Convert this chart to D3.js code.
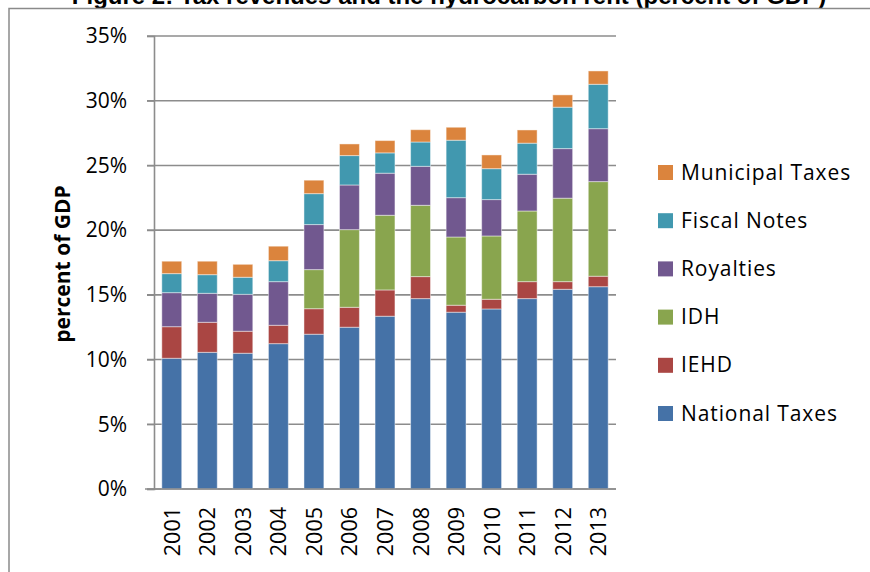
<!DOCTYPE html>
<html>
<head>
<meta charset="utf-8">
<script src="https://cdn.jsdelivr.net/npm/d3@7"></script>
<style>
  body { margin: 0; background: #fff; }
  svg { display: block; font-family: "Open Sans", sans-serif; }
</style>
</head>
<body>
<svg id="chart" width="870" height="572"></svg>
<script>
// values (percent of GDP)
const years = ["2001", "2002", "2003", "2004", "2005", "2006", "2007", "2008", "2009", "2010", "2011", "2012", "2013"];
const nationalTaxes = [10.1, 10.56, 10.49, 11.23, 11.96, 12.5, 13.35, 14.71, 13.66, 13.91, 14.71, 15.43, 15.63];
const iehd = [2.44, 2.32, 1.70, 1.42, 1.97, 1.54, 2.03, 1.70, 0.54, 0.75, 1.31, 0.59, 0.81];
const idh = [0, 0, 0, 0, 3.02, 6.0, 5.77, 5.51, 5.27, 4.89, 5.46, 6.45, 7.31];
const royalties = [2.63, 2.24, 2.85, 3.37, 3.48, 3.45, 3.25, 3.01, 3.04, 2.81, 2.84, 3.83, 4.09];
const fiscalNotes = [1.47, 1.44, 1.32, 1.62, 2.39, 2.27, 1.57, 1.88, 4.44, 2.39, 2.40, 3.20, 3.43];
const municipalTaxes = [0.96, 1.04, 1.0, 1.12, 1.04, 0.9, 0.95, 0.95, 1.0, 1.06, 1.02, 0.95, 1.03];
const seriesNames = ["National Taxes", "IEHD", "IDH", "Royalties", "Fiscal Notes", "Municipal Taxes"];
const seriesColors = ["#4572A7", "#AA4643", "#89A54E", "#71588F", "#4198AF", "#DB843D"];
const yTicks = [0, 5, 10, 15, 20, 25, 30, 35];
const title = "Figure 2: Tax revenues and the hydrocarbon rent (percent of GDP)";

const seriesValues = [nationalTaxes, iehd, idh, royalties, fiscalNotes, municipalTaxes];
const rows = years.map(function(y, i) {
  let r = { year: y };
  seriesNames.forEach(function(n, k) { r[n] = seriesValues[k][i]; });
  return r;
});

const svg = d3.select("#chart");
const plot = { left: 154, right: 616, top: 36, bottom: 489 };

const x = d3.scaleBand()
  .domain(years)
  .range([plot.left, plot.right])
  .paddingInner(0.44)
  .paddingOuter(0.22);
const y = d3.scaleLinear().domain([0, 35]).range([plot.bottom, plot.top]);
const color = d3.scaleOrdinal().domain(seriesNames).range(seriesColors);

// title, cut by the top edge like in the original picture
svg.append("text")
  .attr("x", 449)
  .attr("y", 4)
  .attr("text-anchor", "middle")
  .attr("font-weight", "bold")
  .attr("font-size", 24)
  .attr("font-family", "'Liberation Sans', Arial, sans-serif")
  .text(title);

// chart frame
svg.append("path")
  .attr("d", "M9,580V8.5H880")
  .attr("fill", "none")
  .attr("stroke", "#8a8a8a")
  .attr("stroke-width", 1.5);

// gridlines
svg.append("g")
  .selectAll("line")
  .data(yTicks)
  .join("line")
  .attr("x1", plot.left - 7)
  .attr("x2", plot.right)
  .attr("y1", d => y(d))
  .attr("y2", d => y(d))
  .attr("stroke", "#8c8c8c")
  .attr("stroke-width", 1.6);

// y axis
const yAxis = svg.append("g")
  .attr("transform", `translate(${plot.left},0)`)
  .call(d3.axisLeft(y).tickValues(yTicks).tickFormat(d => d + "%").tickSize(7).tickPadding(20));
yAxis.select(".domain").attr("stroke", "#8c8c8c").attr("stroke-width", 1.6);
yAxis.selectAll(".tick line").attr("stroke", "#8c8c8c").attr("stroke-width", 1.2);
yAxis.selectAll(".tick text")
  .attr("font-size", 21)
  .attr("font-family", "'Open Sans', sans-serif")
  .attr("fill", "#000");

// bars
const stacked = d3.stack().keys(seriesNames)(rows);
svg.append("g")
  .selectAll("g")
  .data(stacked)
  .join("g")
  .attr("fill", d => color(d.key))
  .selectAll("rect")
  .data(d => d)
  .join("rect")
  .attr("x", d => x(d.data.year))
  .attr("width", x.bandwidth())
  .attr("y", d => y(d[1]))
  .attr("height", d => Math.max(0, y(d[0]) - y(d[1])))
  .attr("stroke", "#fff")
  .attr("stroke-opacity", 0.45)
  .attr("stroke-width", 1);

// x axis line
svg.append("line")
  .attr("x1", plot.left - 9)
  .attr("x2", plot.right)
  .attr("y1", plot.bottom)
  .attr("y2", plot.bottom)
  .attr("stroke", "#8c8c8c")
  .attr("stroke-width", 1.6);

// year labels, rotated
svg.append("g")
  .selectAll("text")
  .data(years)
  .join("text")
  .attr("transform", d => `translate(${x(d) + x.bandwidth() / 2 + 8},507) rotate(-90)`)
  .attr("text-anchor", "end")
  .attr("font-size", 21.5)
  .text(d => d);

// y axis title
svg.append("text")
  .attr("transform", "translate(70,264) rotate(-90)")
  .attr("text-anchor", "middle")
  .attr("font-weight", "bold")
  .attr("font-size", 21)
  .text("percent of GDP");

// legend, top entry is the top of the stack
const legendItems = seriesNames.slice().reverse();
const legend = svg.append("g")
  .selectAll("g")
  .data(legendItems)
  .join("g")
  .attr("transform", (d, i) => `translate(658,${172 + i * 48.2})`);
legend.append("rect")
  .attr("x", 0)
  .attr("y", -7)
  .attr("width", 15)
  .attr("height", 15)
  .attr("fill", d => color(d));
legend.append("text")
  .attr("x", 23)
  .attr("y", 0)
  .attr("dy", "0.36em")
  .attr("font-size", 21)
  .attr("letter-spacing", 0.9)
  .text(d => d);
</script>
</body>
</html>
